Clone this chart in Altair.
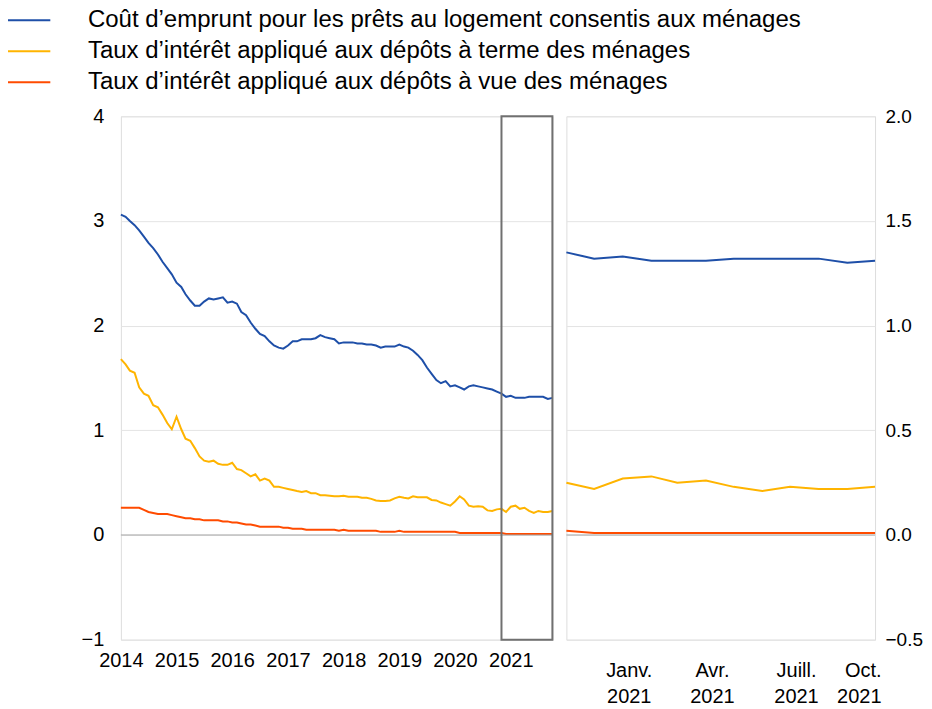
import altair as alt
import pandas as pd

series_names = [
    "Coût d’emprunt pour les prêts au logement consentis aux ménages",
    "Taux d’intérêt appliqué aux dépôts à terme des ménages",
    "Taux d’intérêt appliqué aux dépôts à vue des ménages",
]
series_colors = ["#1E4FA8", "#FFB400", "#FF4B00"]

start_month = "2014-01-01"
n_months = 94          # Jan 2014 .. Oct 2021
zoom_months = 12       # Nov 2020 .. Oct 2021

blue = [
    3.06, 3.04, 3.00, 2.96, 2.91, 2.85, 2.79, 2.74, 2.68, 2.61, 2.55, 2.49,
    2.41, 2.37, 2.30, 2.24, 2.19, 2.19, 2.23, 2.26, 2.25, 2.26, 2.27, 2.22,
    2.23, 2.21, 2.13, 2.10, 2.03, 1.97, 1.92, 1.90, 1.85, 1.81, 1.79, 1.78,
    1.81, 1.85, 1.85, 1.87, 1.87, 1.87, 1.88, 1.91, 1.89, 1.88, 1.87, 1.83,
    1.84, 1.84, 1.84, 1.83, 1.83, 1.82, 1.82, 1.81, 1.79, 1.80, 1.80, 1.80,
    1.82, 1.80, 1.79, 1.76, 1.72, 1.67, 1.60, 1.54, 1.48, 1.45, 1.47, 1.42,
    1.43, 1.41, 1.39, 1.42, 1.43, 1.42, 1.41, 1.40, 1.39, 1.37,
    1.35, 1.32, 1.33, 1.31, 1.31, 1.31, 1.32, 1.32, 1.32, 1.32, 1.30, 1.31,
]
yellow = [
    1.68, 1.63, 1.57, 1.55, 1.41, 1.35, 1.33, 1.24, 1.22, 1.15, 1.07, 1.01,
    1.13, 1.01, 0.92, 0.90, 0.83, 0.75, 0.71, 0.70, 0.71, 0.68, 0.67, 0.67,
    0.69, 0.63, 0.62, 0.59, 0.56, 0.58, 0.52, 0.54, 0.52, 0.46, 0.46, 0.45,
    0.44, 0.43, 0.42, 0.41, 0.42, 0.40, 0.40, 0.38, 0.38, 0.375, 0.37, 0.37,
    0.375, 0.365, 0.365, 0.365, 0.355, 0.355, 0.345, 0.33, 0.325, 0.325, 0.33, 0.35,
    0.365, 0.355, 0.35, 0.37, 0.36, 0.36, 0.36, 0.335, 0.33, 0.31, 0.295, 0.28,
    0.32, 0.37, 0.34, 0.28, 0.27, 0.275, 0.27, 0.235, 0.23, 0.245,
    0.25, 0.22, 0.27, 0.28, 0.25, 0.26, 0.23, 0.21, 0.23, 0.22, 0.22, 0.23,
]
red = [
    0.26, 0.26, 0.26, 0.26, 0.26, 0.24, 0.22, 0.21, 0.20, 0.20, 0.20, 0.19,
    0.18, 0.17, 0.16, 0.16, 0.15, 0.15, 0.14, 0.14, 0.14, 0.14, 0.13, 0.13,
    0.12, 0.12, 0.11, 0.10, 0.10, 0.09, 0.08, 0.08, 0.08, 0.08, 0.08, 0.07,
    0.07, 0.06, 0.06, 0.06, 0.05, 0.05, 0.05, 0.05, 0.05, 0.05, 0.05, 0.04,
    0.05, 0.04, 0.04, 0.04, 0.04, 0.04, 0.04, 0.04, 0.03, 0.03, 0.03, 0.03,
    0.04, 0.03, 0.03, 0.03, 0.03, 0.03, 0.03, 0.03, 0.03, 0.03, 0.03, 0.03,
    0.03, 0.02, 0.02, 0.02, 0.02, 0.02, 0.02, 0.02, 0.02, 0.02,
    0.02, 0.01, 0.01, 0.01, 0.01, 0.01, 0.01, 0.01, 0.01, 0.01, 0.01, 0.01,
]

left_ticks = [-1, 0, 1, 2, 3, 4]
right_ticks = [-0.5, 0.0, 0.5, 1.0, 1.5, 2.0]
years = list(range(2014, 2022))
zoom_tick_months = [1, 4, 7, 10]
zoom_month_labels = ["Janv.", "Avr.", "Juill.", "Oct."]

FONT = "Liberation Sans"

dates = pd.date_range(start_month, periods=n_months, freq="MS")
rows = []
for name, vals in zip(series_names, [blue, yellow, red]):
    for d, v in zip(dates, vals):
        rows.append({"date": d.strftime("%Y-%m-%d"), "series": name, "value": v})
df = pd.DataFrame(rows)
zoom_start = dates[-zoom_months]
df_zoom = df[pd.to_datetime(df["date"]) >= zoom_start]

box = pd.DataFrame({
    "start": [zoom_start.strftime("%Y-%m-%d")],
    "end": [dates[-1].strftime("%Y-%m-%d")],
    "lo": [left_ticks[0]],
    "hi": [left_ticks[-1]],
})
zero = pd.DataFrame({"y": [0]})

color = alt.Color(
    "series:N",
    scale=alt.Scale(domain=series_names, range=series_colors),
    title=None,
    legend=alt.Legend(
        orient="none", legendX=-105, legendY=-108, direction="vertical",
        symbolType="M-2.5,0L2.5,0", symbolSize=320, symbolStrokeWidth=2,
        labelFontSize=24, labelFont=FONT, labelOffset=48, rowPadding=7,
        labelLimit=0, labelColor="#000000",
    ),
)


def dt(y, m):
    return alt.DateTime(year=y, month=m, date=1)


# ---------- left panel ----------
x_left = alt.X(
    "date:T",
    scale=alt.Scale(domain=[dt(2014, 1), dt(dates[-1].year, dates[-1].month)]),
    axis=alt.Axis(values=[dt(y, 1) for y in years], format="%Y", labelAngle=0,
                  ticks=False, domain=False, grid=False, labelFontSize=20,
                  labelPadding=11, labelFlush=False, title=None),
)
y_left = alt.Y(
    "value:Q",
    scale=alt.Scale(domain=[left_ticks[0], left_ticks[-1]], nice=False),
    axis=alt.Axis(values=left_ticks, format="d", ticks=False, domain=False,
                  grid=True, gridColor="#e4e4e4", labelFontSize=20,
                  labelPadding=17, title=None),
)

left_zero = alt.Chart(zero).mark_rule(color="#a6a6a6", strokeWidth=1).encode(
    y=alt.Y("y:Q"))
left_lines = alt.Chart(df).mark_line(strokeWidth=2).encode(
    x=x_left, y=y_left, color=color)
left_box = alt.Chart(box).mark_rect(
    fillOpacity=0, stroke="#707070", strokeWidth=2).encode(
    x="start:T", x2="end:T", y="lo:Q", y2="hi:Q")

left = alt.layer(left_lines, left_zero, left_box).properties(width=432, height=524)

# ---------- right panel ----------
month_expr = "{" + ",".join(f"{m - 1}:'{lab}'" for m, lab in zip(zoom_tick_months, zoom_month_labels)) + "}"
label_expr = f"[{month_expr}[month(datum.value)], timeFormat(datum.value, '%Y')]"

x_right = alt.X(
    "date:T",
    scale=alt.Scale(domain=[dt(zoom_start.year, zoom_start.month),
                            dt(dates[-1].year, dates[-1].month)]),
    axis=alt.Axis(values=[dt(2021, m) for m in zoom_tick_months], labelExpr=label_expr,
                  labelAngle=0, ticks=False, domain=False, grid=False,
                  labelFontSize=20, labelLineHeight=26, labelPadding=21,
                  labelOffset=6, labelFlush=True, title=None),
)
y_right = alt.Y(
    "value:Q",
    scale=alt.Scale(domain=[right_ticks[0], right_ticks[-1]], nice=False),
    axis=alt.Axis(values=right_ticks, format=".1f", orient="right", ticks=False,
                  domain=False, grid=True, gridColor="#e4e4e4", labelFontSize=19,
                  labelPadding=10, title=None),
)
right_zero = alt.Chart(zero).mark_rule(color="#a6a6a6", strokeWidth=1).encode(
    y=alt.Y("y:Q"))
right_lines = alt.Chart(df_zoom).mark_line(strokeWidth=2).encode(
    x=x_right, y=y_right, color=color)
right = alt.layer(right_lines, right_zero).properties(width=309, height=524)

chart = alt.hconcat(left, right, spacing=4).properties(
    padding={"left": 8, "top": 0, "right": 0, "bottom": 0},
).configure_view(stroke="#dcdcdc").configure_axis(
    labelFont=FONT, labelColor="#000000"
).configure(background="white")

chart.save("out.html", embed_options={"renderer": "svg", "actions": False})
